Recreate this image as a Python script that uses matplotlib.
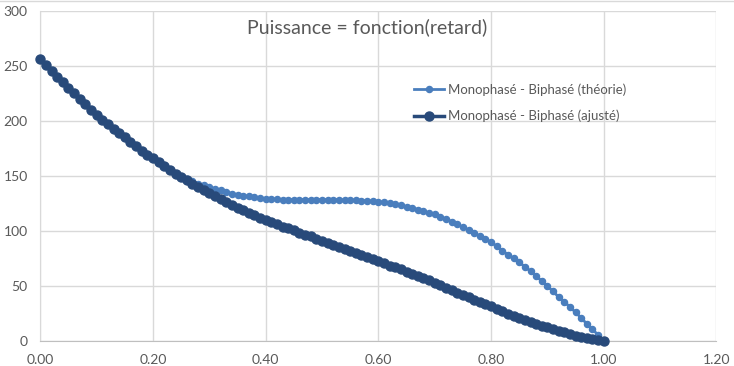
import matplotlib.pyplot as plt
from matplotlib.lines import Line2D
import numpy as np

# retard values, step 0.01
retard = np.round(np.arange(101) * 0.01, 2)

# Monophasé - Biphasé (théorie)
theorie = [256, 250.5, 245, 240, 235, 230, 225, 220, 215, 210,
           205, 201, 197, 193, 189, 185, 181, 177, 173, 169.5,
           166, 162.5, 159, 155.5, 152, 149.5, 147, 145, 143, 141.5,
           140, 138.5, 137, 135.5, 134, 133, 132, 131.5, 130.5, 130,
           129.5, 129, 129, 128.5, 128.5, 128.5, 128.5, 128.5, 128.5, 128.5,
           128.5, 128.5, 128.5, 128.5, 128, 128, 128, 127.5, 127.5, 127,
           126.5, 126, 125, 124.5, 123.5, 122, 121, 119.5, 118, 116.5,
           115, 113, 111, 108.5, 106, 103.5, 101, 98, 95.5, 92.5,
           90, 86, 82, 78.5, 75, 71.5, 67.5, 63.5, 59, 54.5,
           50, 45, 40, 35.5, 31, 26, 21, 15.5, 10.5, 5.5,
           0]

# Monophasé - Biphasé (ajusté)
ajuste = [256, 250.5, 245, 240, 235, 230, 225, 220, 215, 210,
          205, 201, 197, 193, 189, 185, 181, 177, 173, 169.5,
          166, 162.5, 159, 155.5, 152, 149, 146, 143, 140, 137,
          134.5, 131.5, 129, 126, 123.5, 121, 119, 116.5, 114.5, 112,
          110, 108, 106, 104, 102.5, 100.5, 98.5, 96.5, 95, 93,
          91, 89, 87.5, 85.5, 83.5, 82, 80, 78, 76, 74.5,
          72.5, 70.5, 68.5, 67, 65, 63, 61, 59, 57, 55,
          53, 51, 48.5, 46.5, 44, 42, 40, 37.5, 35.5, 33.5,
          31.5, 29.5, 27.5, 25, 23, 21, 19, 17.5, 15.5, 14,
          12.5, 11, 9.5, 8, 6.5, 5, 4, 3, 2, 1,
          0]

plt.rcParams['font.family'] = ['Lato', 'DejaVu Sans']

fig = plt.figure(figsize=(7.34, 3.66), dpi=100)
ax = fig.add_axes([0.0549, 0.0683, 0.9212, 0.9017])

ax.plot(retard, theorie, color='#4a7ebd', lw=2, marker='o', ms=4.4,
        label='Monophasé - Biphasé (théorie)', zorder=3, clip_on=False)
ax.plot(retard, ajuste, color='#284a7a', lw=2.5, marker='o', ms=6.5,
        label='Monophasé - Biphasé (ajusté)', zorder=4, clip_on=False)

ax.set_xlim(0, 1.2)
ax.set_ylim(0, 300)
ax.set_xticks(np.arange(0, 1.21, 0.2))
ax.set_xticklabels(['%.2f' % v for v in np.arange(0, 1.21, 0.2)])
ax.set_yticks(np.arange(0, 301, 50))
ax.grid(True, color='#d9d9d9', lw=1)
ax.set_axisbelow(True)
for s in ['top', 'right']:
    ax.spines[s].set_visible(False)
ax.spines['left'].set_color('#d9d9d9')
ax.spines['bottom'].set_color('#bfbfbf')
ax.tick_params(length=0, labelsize=10, labelcolor='#595959', pad=9)

fig.text(0.5, 0.926, 'Puissance = fonction(retard)', ha='center', va='center',
         fontsize=14, color='#595959')

ax.legend(loc='upper left', bbox_to_anchor=(0.548, 0.805), bbox_transform=fig.transFigure,
          frameon=False, fontsize=9.5, handlelength=2.3, labelcolor='#595959',
          labelspacing=1.05, handletextpad=0.3)

fig.add_artist(Line2D([0, 1], [0.998, 0.998], color='#d9d9d9', lw=1))

fig.savefig('out.png', dpi=100)
